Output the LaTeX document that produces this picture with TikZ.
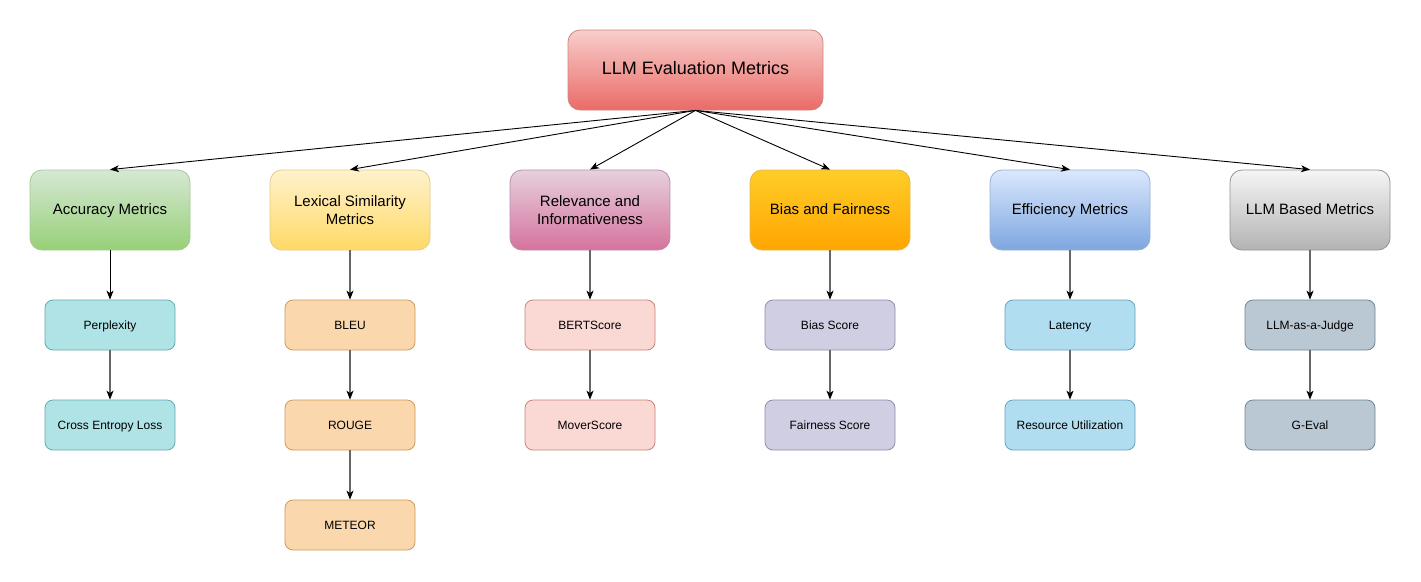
\documentclass[tikz,border=0pt]{standalone}
\usepackage{fontspec}
\setmainfont{Liberation Sans}
\usetikzlibrary{arrows.meta}
\definecolor{rootT}{HTML}{F8CECC}\definecolor{rootB}{HTML}{EA6B66}\definecolor{rootD}{HTML}{B85450}
\definecolor{accT}{HTML}{D5E8D4}\definecolor{accB}{HTML}{97D077}\definecolor{accD}{HTML}{82B366}
\definecolor{lexT}{HTML}{FFF2CC}\definecolor{lexB}{HTML}{FFD966}\definecolor{lexD}{HTML}{D6B656}
\definecolor{relT}{HTML}{E6D0DE}\definecolor{relB}{HTML}{D5739D}\definecolor{relD}{HTML}{996185}
\definecolor{biaT}{HTML}{FFCD28}\definecolor{biaB}{HTML}{FFA500}\definecolor{biaD}{HTML}{D79B00}
\definecolor{effT}{HTML}{DAE8FC}\definecolor{effB}{HTML}{7EA6E0}\definecolor{effD}{HTML}{6C8EBF}
\definecolor{llmT}{HTML}{F5F5F5}\definecolor{llmB}{HTML}{B3B3B3}\definecolor{llmD}{HTML}{666666}
\definecolor{c1F}{HTML}{B0E3E6}\definecolor{c1D}{HTML}{0E8088}
\definecolor{c2F}{HTML}{FAD7AC}\definecolor{c2D}{HTML}{B46504}
\definecolor{c3F}{HTML}{FAD9D5}\definecolor{c3D}{HTML}{AE4132}
\definecolor{c4F}{HTML}{D0CEE2}\definecolor{c4D}{HTML}{56517E}
\definecolor{c5F}{HTML}{B1DDF0}\definecolor{c5D}{HTML}{10739E}
\definecolor{c6F}{HTML}{BAC8D3}\definecolor{c6D}{HTML}{23445D}
\definecolor{lineG}{HTML}{666666}
\tikzset{
  oneline/.style={text height=0.85em, text depth=0.05em},
  rootbox/.style={draw=rootD!70, top color=rootT, bottom color=rootB, rounded corners=12pt,
    minimum width=255pt, minimum height=80pt, inner sep=0pt, line width=0.8pt,
    oneline, font=\fontsize{18}{21}\selectfont},
  catbox/.style args={#1}{draw=#1D!70, top color=#1T, bottom color=#1B, rounded corners=12pt,
    minimum width=160pt, minimum height=80pt, inner sep=0pt, line width=0.8pt, align=center,
    font=\fontsize{15}{17.6}\selectfont},
  leafbox/.style args={#1}{draw=#1D!65, fill=#1F, rounded corners=8pt,
    minimum width=130pt, minimum height=50pt, inner sep=0pt, line width=0.8pt,
    oneline, font=\fontsize{12}{14}\selectfont},
  toparrow/.style={-{Stealth[length=9pt,width=7pt,inset=2.5pt]}, line width=0.9pt, black},
  downarrow/.style={-{Stealth[length=9pt,width=7pt,inset=2.5pt,black]}, line width=1.1pt, lineG},
}
\begin{document}
\begin{tikzpicture}[x=1pt,y=-1pt]
\useasboundingbox[fill=white] (0,0) rectangle (1421,581);
\node[rootbox] (root) at (695.5,70) {LLM Evaluation Metrics};
\node[catbox=acc, oneline] (acc) at (110,210) {Accuracy Metrics};
\node[catbox=lex] (lex) at (350,210) {Lexical Similarity\\Metrics};
\node[catbox=rel] (rel) at (590,210) {Relevance and\\Informativeness};
\node[catbox=bia, oneline] (bia) at (830,210) {Bias and Fairness};
\node[catbox=eff, oneline] (eff) at (1070,210) {Efficiency Metrics};
\node[catbox=llm, oneline] (llm) at (1310,210) {LLM Based Metrics};
\node[leafbox=c1] (perp) at (110,325) {Perplexity};
\node[leafbox=c1] (cel) at (110,425) {Cross Entropy Loss};
\node[leafbox=c2] (bleu) at (350,325) {BLEU};
\node[leafbox=c2] (rouge) at (350,425) {ROUGE};
\node[leafbox=c2] (meteor) at (350,525) {METEOR};
\node[leafbox=c3] (bert) at (590,325) {BERTScore};
\node[leafbox=c3] (mover) at (590,425) {MoverScore};
\node[leafbox=c4] (bscore) at (830,325) {Bias Score};
\node[leafbox=c4] (fscore) at (830,425) {Fairness Score};
\node[leafbox=c5] (lat) at (1070,325) {Latency};
\node[leafbox=c5] (res) at (1070,425) {Resource Utilization};
\node[leafbox=c6] (judge) at (1310,325) {LLM-as-a-Judge};
\node[leafbox=c6] (geval) at (1310,425) {G-Eval};
\foreach \c in {acc,lex,rel,bia,eff,llm}
  \draw[toparrow] (root.south) -- (\c.north);
\draw[toparrow] (acc) -- (perp);
\draw[downarrow] (perp) -- (cel);
\draw[downarrow] (lex) -- (bleu);
\draw[downarrow] (bleu) -- (rouge);
\draw[downarrow] (rouge) -- (meteor);
\draw[downarrow] (rel) -- (bert);
\draw[downarrow] (bert) -- (mover);
\draw[downarrow] (bia) -- (bscore);
\draw[downarrow] (bscore) -- (fscore);
\draw[downarrow] (eff) -- (lat);
\draw[downarrow] (lat) -- (res);
\draw[downarrow] (llm) -- (judge);
\draw[downarrow] (judge) -- (geval);
\end{tikzpicture}
\end{document}
